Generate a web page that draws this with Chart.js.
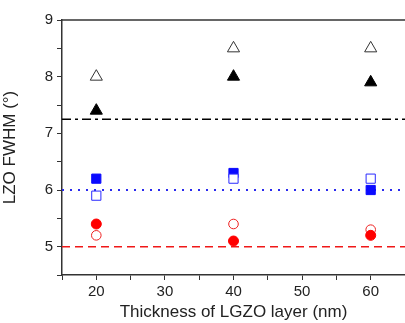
<!DOCTYPE html>
<html>
<head>
<meta charset="utf-8">
<script src="https://cdn.jsdelivr.net/npm/chart.js@4/dist/chart.umd.min.js"></script>
<style>
  html,body{margin:0;padding:0;background:#fff;}
  #wrap{width:405px;height:323px;}
</style>
</head>
<body>
<div id="wrap"><canvas id="fwhm-chart" width="405" height="323"></canvas></div>
<script>
// thickness of LGZO layer (nm)
var thickness = [20, 40, 60];
// LZO FWHM values
var triOpen   = [8.0, 8.5, 8.5];
var triFilled = [7.4, 8.0, 7.9];
var sqFilled  = [6.2, 6.3, 6.0];
var sqOpen    = [5.9, 6.2, 6.2];
var cirOpen   = [5.2, 5.4, 5.3];
var cirFilled = [5.4, 5.1, 5.2];
// horizontal reference levels
var refBlack = 7.25;
var refBlue  = 6.0;
var refRed   = 5.0;

var xMin = 15, xMax = 65;

function pts(vals){
  return thickness.map(function(t,i){ return {x:t, y:vals[i]}; });
}
function level(v){
  return [{x:xMin,y:v},{x:xMax,y:v}];
}

// top frame line
var frameTop = {
  id:'frameTop',
  afterDraw:function(chart){
    var a = chart.chartArea, ctx = chart.ctx;
    ctx.save();
    ctx.strokeStyle = '#333';
    ctx.lineWidth = 1.5;
    ctx.beginPath();
    ctx.moveTo(a.left, a.top);
    ctx.lineTo(a.right, a.top);
    ctx.stroke();
    ctx.restore();
  }
};

var ctx = document.getElementById('fwhm-chart').getContext('2d');
var myChart = new Chart(ctx, {
  type:'scatter',
  data:{
    datasets:[
      {data:pts(triOpen), pointStyle:'triangle', pointRadius:7, pointBackgroundColor:'#fff', pointBorderColor:'#333', pointBorderWidth:1, order:1},
      {data:pts(triFilled), pointStyle:'triangle', pointRadius:7, pointBackgroundColor:'#000', pointBorderColor:'#000', pointBorderWidth:1, order:1},
      {data:pts(sqOpen), pointStyle:'rect', pointRadius:6.5, pointBackgroundColor:'#fff', pointBorderColor:'#2a2aff', pointBorderWidth:1, order:2},
      {data:pts(sqFilled), pointStyle:'rect', pointRadius:6.5, pointBackgroundColor:'#0a0aff', pointBorderColor:'#0a0aff', pointBorderWidth:1, order:3},
      {data:pts(cirFilled), pointStyle:'circle', pointRadius:5, pointBackgroundColor:'#f00', pointBorderColor:'#f00', pointBorderWidth:1, order:2},
      {data:pts(cirOpen), pointStyle:'circle', pointRadius:4.8, pointBackgroundColor:'#fff', pointBorderColor:'#ee2020', pointBorderWidth:1, order:3},
      {type:'line', data:level(refBlack), borderColor:'#000', borderWidth:1.5, borderDash:[9,4,3,4], pointRadius:0, order:10},
      {type:'line', data:level(refBlue), borderColor:'#2a2aee', borderWidth:2, borderDash:[2,6], pointRadius:0, order:10},
      {type:'line', data:level(refRed), borderColor:'#f01818', borderWidth:1.5, borderDash:[8,5], pointRadius:0, order:10}
    ]
  },
  plugins:[frameTop],
  options:{
    responsive:false,
    animation:false,
    layout:{autoPadding:false, padding:{top:20,right:0,left:0,bottom:0}},
    plugins:{legend:{display:false}, tooltip:{enabled:false}},
    scales:{
      x:{
        type:'linear', min:xMin, max:xMax,
        border:{display:true, color:'#333', width:1.5},
        grid:{drawOnChartArea:false, drawTicks:true, tickLength:5, color:'#333'},
        ticks:{stepSize:5, autoSkip:false, maxRotation:0, padding:3, color:'#222',
          font:{family:'Liberation Sans', size:15},
          callback:function(v){ return v%10===0 ? v : ''; }},
        title:{display:true, text:'Thickness of LGZO layer (nm)', color:'#222',
          font:{family:'Liberation Sans', size:17}, padding:{top:2,bottom:0}},
        afterFit:function(s){ s.height = 48; s.paddingRight = 0; s.paddingLeft = 0; }
      },
      y:{
        type:'linear', min:4.5, max:9,
        border:{display:true, color:'#333', width:1.5},
        grid:{drawOnChartArea:false, drawTicks:true, tickLength:5, color:'#333'},
        ticks:{stepSize:0.5, autoSkip:false, padding:4, color:'#222',
          font:{family:'Liberation Sans', size:15},
          callback:function(v){ return Number.isInteger(v) && v>=5 ? v : ''; }},
        title:{display:true, text:'LZO FWHM (°)', color:'#222',
          font:{family:'Liberation Sans', size:17}, padding:{top:0,bottom:4}},
        afterFit:function(s){ s.width = 62; s.paddingTop = 0; s.paddingBottom = 0; }
      }
    }
  }
});
</script>
</body>
</html>
